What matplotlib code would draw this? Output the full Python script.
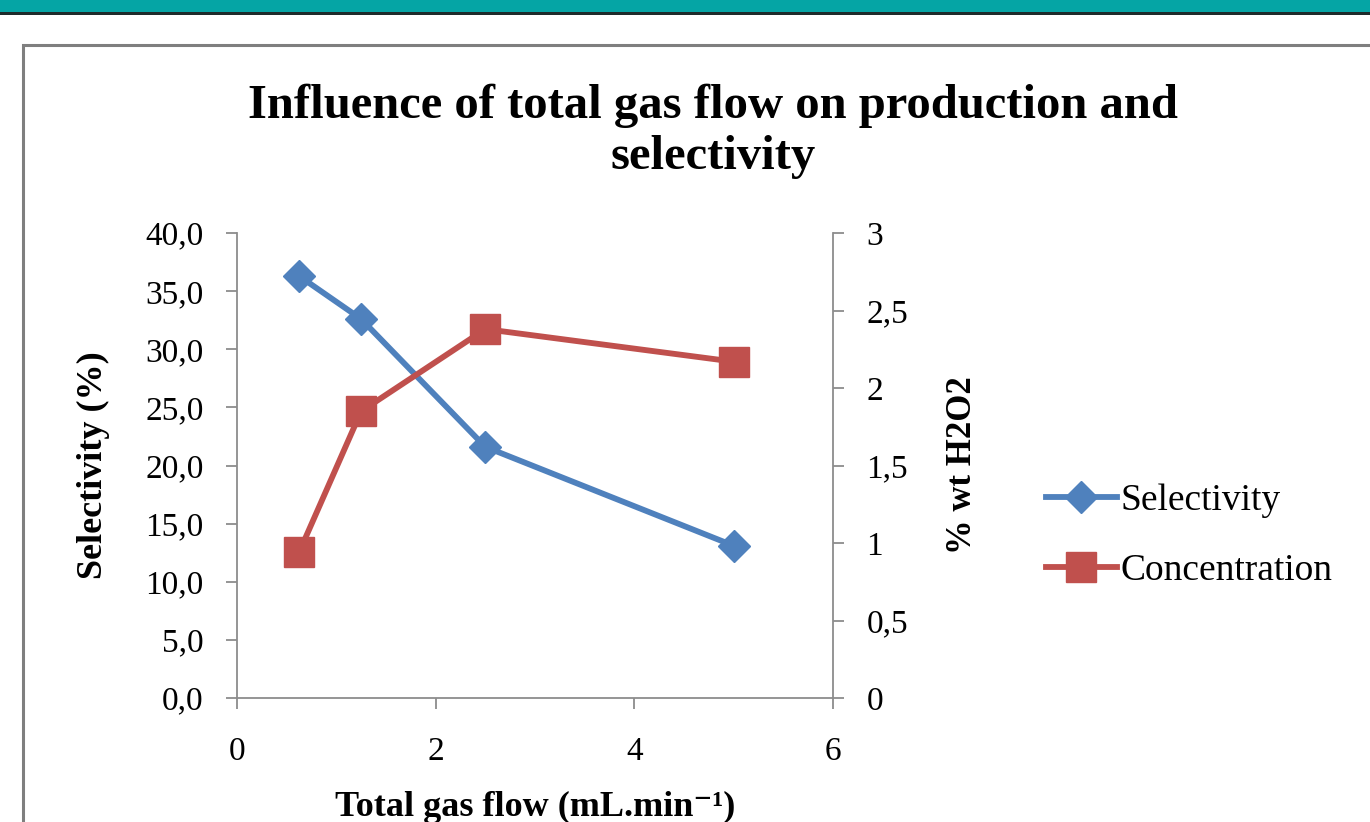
import numpy as np
import matplotlib
matplotlib.use('Agg')
import matplotlib.pyplot as plt
import matplotlib.ticker as mtick
from matplotlib.patches import Rectangle
from matplotlib.lines import Line2D

# data
gas_flow = [0.625, 1.25, 2.5, 5.0]
selectivity = [36.3, 32.6, 21.6, 13.1]
concentration = [0.94, 1.85, 2.38, 2.17]

BLUE = '#4F81BD'
RED = '#C0504D'
GREY = '#8C8C8C'

plt.rcParams['font.family'] = ['Liberation Serif', 'DejaVu Serif']

W, H = 1370, 822
fig = plt.figure(figsize=(W / 100, H / 100), dpi=100)

# page decoration: teal header bar and chart frame
fig.patches.append(Rectangle((0, 1 - 12 / H), 1, 12 / H, transform=fig.transFigure,
                             facecolor='#05A5A5', edgecolor='none', zorder=0))
fig.patches.append(Rectangle((0, 1 - 15 / H), 1, 3 / H, transform=fig.transFigure,
                             facecolor='#1E2A2A', edgecolor='none', zorder=0))
fig.patches.append(Rectangle((23 / W, -0.2), 1.2, 1.2 - 45 / H, transform=fig.transFigure,
                             facecolor='none', edgecolor='#7F7F7F', linewidth=2.2, zorder=0))

ax = fig.add_axes([237 / W, 1 - 698 / H, 596 / W, 465 / H])
ax2 = ax.twinx()

ax.plot(gas_flow, selectivity, color=BLUE, lw=4.2, marker='D', ms=16,
        label='Selectivity', zorder=3)
ax2.plot(gas_flow, concentration, color=RED, lw=4.2, marker='s', ms=21,
         label='Concentration', zorder=3)

ax.set_xlim(0, 6)
ax.set_ylim(0, 40)
ax2.set_ylim(0, 3)
ax.set_xticks([0, 2, 4, 6])
ax.set_yticks(np.arange(0, 41, 5))
ax2.set_yticks(np.arange(0, 3.01, 0.5))

ax.yaxis.set_major_formatter(mtick.FuncFormatter(lambda v, p: f'{v:.1f}'.replace('.', ',')))
ax2.yaxis.set_major_formatter(mtick.FuncFormatter(
    lambda v, p: (f'{v:.0f}' if v == int(v) else f'{v:.1f}').replace('.', ',')))

for a in (ax, ax2):
    for s in a.spines.values():
        s.set_color(GREY)
        s.set_linewidth(1.3)
    a.spines['top'].set_visible(False)
ax.spines['right'].set_visible(False)
ax2.spines['left'].set_visible(False)
ax2.spines['bottom'].set_visible(False)

ax.tick_params(axis='x', direction='out', length=8, width=1.3, color=GREY,
               labelsize=24, pad=20)
ax.tick_params(axis='y', direction='out', length=8, width=1.3, color=GREY,
               labelsize=24, pad=16)
ax2.tick_params(axis='y', direction='out', length=8, width=1.3, color=GREY,
                labelsize=24, pad=16)

ax.set_xlabel('Total gas flow (mL.min⁻¹)', fontsize=26, fontweight='bold')
ax.xaxis.set_label_coords(0.5, -0.2)
ax.set_ylabel('Selectivity (%)', fontsize=26, fontweight='bold')
ax.yaxis.set_label_coords(-0.213, 0.5)
ax2.set_ylabel('% wt H2O2', fontsize=25, fontweight='bold', rotation=90)
ax2.yaxis.set_label_coords(1.19, 0.5)

fig.text(713 / W, 1 - 84 / H, 'Influence of total gas flow on production and\nselectivity',
         ha='center', va='top', fontsize=35, fontweight='bold', linespacing=1.2)

handles = [Line2D([], [], color=BLUE, lw=4.2, marker='D', ms=16),
           Line2D([], [], color=RED, lw=4.2, marker='s', ms=21)]
fig.legend(handles, ['Selectivity', 'Concentration'], loc='center left',
           bbox_to_anchor=(1012 / W, 1 - 536 / H), frameon=False, fontsize=27,
           handlelength=1.9, handletextpad=0.1, labelspacing=0.95)

fig.savefig('out.png', dpi=100)
